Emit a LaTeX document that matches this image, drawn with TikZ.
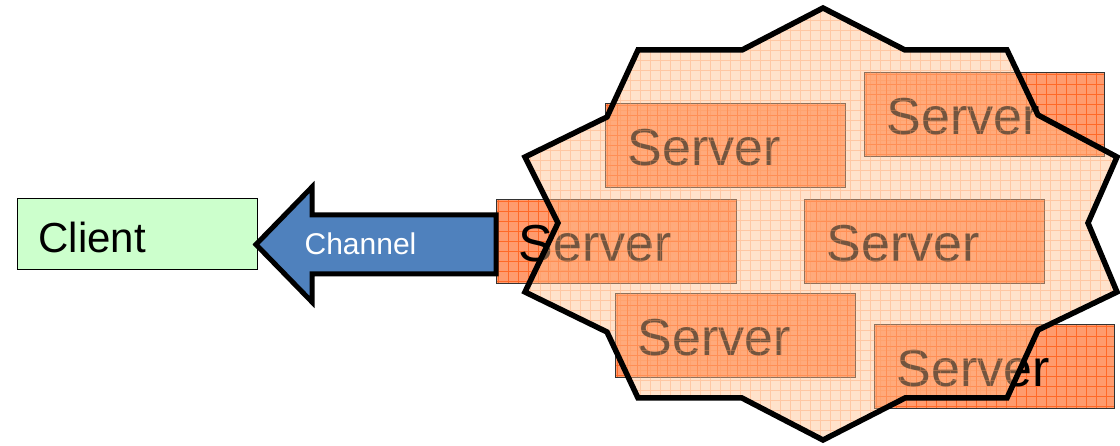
\documentclass[tikz,border=0pt]{standalone}
\usepackage{fontspec}
\setmainfont{Liberation Sans}
\definecolor{srvfill}{RGB}{255,155,110}
\definecolor{srvgrid}{RGB}{255,105,40}
\definecolor{cloudcol}{RGB}{255,190,140}
\definecolor{cloudgridcol}{RGB}{255,150,90}
\definecolor{clientfill}{RGB}{204,255,204}
\definecolor{chanfill}{RGB}{79,129,189}
\def\cloudpath{(823,8) -- (905,50) -- (1007,50) -- (1038,115) -- (1117,157) -- (1088,223) -- (1117,292) -- (1038,330) -- (1007,398) -- (905,398) -- (823,440) -- (742,398) -- (638,398) -- (607,332) -- (525,292) -- (558,223) -- (525,157) -- (607,117) -- (638,50) -- (742,50) -- cycle}
\begin{document}
\begin{tikzpicture}[x=1pt,y=-1pt,
  serverbox/.style={rectangle, draw=black!80, line width=0.9pt, fill=srvfill,
    minimum width=240pt, minimum height=84pt, inner xsep=22pt, inner ysep=0pt,
    text width=196pt, align=left, anchor=north west, text height=41pt,
    font=\fontsize{52}{52}\selectfont,
    path picture={\draw[srvgrid, line width=0.7pt] (path picture bounding box.south west) grid[step=10pt] (path picture bounding box.north east);}},
  clientbox/.style={rectangle, draw=black, line width=0.8pt, fill=clientfill,
    minimum width=240pt, minimum height=71pt, inner xsep=21pt, inner ysep=0pt,
    text width=198pt, align=left, anchor=north west, text height=37pt,
    font=\fontsize{42}{42}\selectfont},
  chanarrow/.style={draw=black, line width=5pt, fill=chanfill, line join=miter},
  chanlabel/.style={text=white, inner sep=0pt, font=\fontsize{30}{30}\selectfont},
  cloudedge/.style={draw=black, line width=5.5pt, line join=miter}
]
\useasboundingbox (0,0) rectangle (1120,446);
% servers
\node[serverbox] (s1) at (605,103) {Server};
\node[serverbox] (s2) at (864,72) {Server};
\node[serverbox] (s3) at (496,199) {Server};
\node[serverbox] (s4) at (804,199) {Server};
\node[serverbox] (s5) at (615,293) {Server};
\node[serverbox] (s6) at (874,324) {Server};
% cloud
\fill[cloudcol, fill opacity=0.45] \cloudpath;
\begin{scope}
  \clip \cloudpath;
  \draw[cloudgridcol, draw opacity=0.35, line width=0.6pt] (520,0) grid[step=10pt] (1120,446);
\end{scope}
\draw[cloudedge] \cloudpath;
% client
\node[clientbox] (client) at (17,198) {Client};
% channel arrow
\coordinate (tip) at (256,244.5);
\coordinate (tail) at (496,244.5);
\draw[chanarrow] ([yshift=29.5pt]tail) -- (312,215) -- (312,187) -- (tip) -- (312,302) -- (312,274) -- ([yshift=-29.5pt]tail) -- cycle;
\node[chanlabel] (chan) at (360.5,243.5) {Channel};
\end{tikzpicture}
\end{document}
